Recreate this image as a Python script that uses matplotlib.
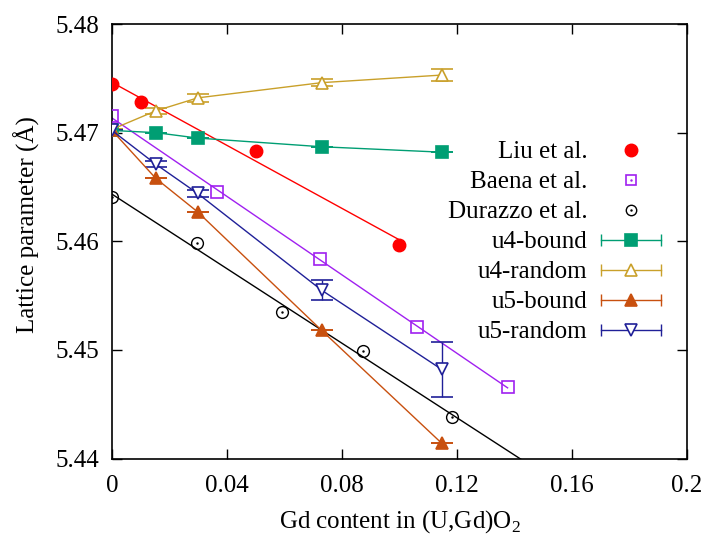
import numpy as np
import matplotlib
matplotlib.use('Agg')
import matplotlib.pyplot as plt
from matplotlib.lines import Line2D
from matplotlib.legend_handler import HandlerBase

plt.rcParams['font.family'] = ['Liberation Serif', 'DejaVu Serif']
plt.rcParams['mathtext.fontset'] = 'custom'
plt.rcParams['mathtext.rm'] = 'Liberation Serif'
plt.rcParams['font.size'] = 18

# experimental data
liu_x = [0.0, 0.01, 0.05, 0.10]
liu_y = [5.4745, 5.4728, 5.4683, 5.4597]
baena_x = [0.0, 0.0366, 0.0723, 0.1060, 0.1376]
baena_y = [5.4715, 5.4645, 5.4584, 5.4521, 5.4466]
durazzo_x = [0.0, 0.0297, 0.0593, 0.0874, 0.1184]
durazzo_y = [5.4641, 5.4598, 5.4535, 5.4499, 5.4438]

# simulations
sim_x = [0.0, 0.0152, 0.0298, 0.0729, 0.1147]
u4b_y = [5.4702, 5.4700, 5.4695, 5.4687, 5.4682]
u4b_err = [0.0, 0.0, 0.0, 0.0, 0.0]
u4r_y = [5.4703, 5.4720, 5.4732, 5.4746, 5.4753]
u4r_err = [0.0, 0.0003, 0.0004, 0.0003, 0.00055]
u5b_y = [5.4702, 5.4658, 5.4627, 5.4518, 5.4414]
u5b_err = [0.0, 0.0, 0.0, 0.0, 0.0]
u5r_y = [5.4702, 5.4671, 5.4644, 5.4555, 5.4482]
u5r_err = [0.0, 0.0003, 0.0003, 0.0009, 0.0025]

x_ticks = [0, 0.04, 0.08, 0.12, 0.16, 0.2]
x_labels = ['0', '0.04', '0.08', '0.12', '0.16', '0.2']
y_ticks = [5.44, 5.45, 5.46, 5.47, 5.48]
y_labels = ['5.44', '5.45', '5.46', '5.47', '5.48']

RED = '#ff0000'
PURPLE = '#a020f0'
TEAL = '#009e73'
GOLD = '#c9a02a'
ORANGE = '#c8500f'
BLUE = '#202098'
LW = 1.0
MS = 8.5


class ErrProxy(Line2D):
    pass


class HandlerErr(HandlerBase):
    # gnuplot style key: horizontal line with end caps and marker in the middle
    def create_artists(self, legend, orig, xdescent, ydescent, width, height,
                       fontsize, trans):
        y = height / 2 - ydescent
        x0, x1 = -xdescent, width - xdescent
        c = orig.get_color()
        line = Line2D([x0, x1], [y, y], color=c, lw=LW)
        caps = Line2D([x0, x1], [y, y], ls='none', marker='|', ms=9,
                      mew=LW, color=c)
        mk = Line2D([(x0 + x1) / 2], [y], ls='none',
                    marker=orig.get_marker(), ms=orig.get_markersize(),
                    mfc=orig.get_markerfacecolor(),
                    mec=orig.get_markeredgecolor(), mew=1.2)
        for a in (line, caps, mk):
            a.set_transform(trans)
        return [line, caps, mk]


fig = plt.figure(figsize=(7.07, 5.48), dpi=100)
ax = fig.add_axes([0.1584, 0.1633, 0.8133, 0.7929])

# fits to the experimental data
for xs, ys, c, xend in [(liu_x, liu_y, RED, liu_x[-1]),
                        (baena_x, baena_y, PURPLE, baena_x[-1]),
                        (durazzo_x, durazzo_y, 'black', 0.16)]:
    k, b = np.polyfit(xs, ys, 1)
    xx = np.array([0.0, xend])
    ax.plot(xx, k * xx + b, color=c, lw=LW, zorder=2)

ax.plot(liu_x, liu_y, 'o', color=RED, ms=MS + 0.5, zorder=4)
ax.plot(baena_x, baena_y, 's', mfc='none', mec=PURPLE, mew=1.2, ms=MS, zorder=4)
ax.plot(durazzo_x, durazzo_y, 'o', mfc='none', mec='black', mew=1.0, ms=MS, zorder=4)
ax.plot(durazzo_x, durazzo_y, '.', color='black', ms=1.5, zorder=4)

sims = [(u4b_y, u4b_err, TEAL, 's', TEAL, 'u4-bound'),
        (u4r_y, u4r_err, GOLD, '^', 'white', 'u4-random'),
        (u5b_y, u5b_err, ORANGE, '^', ORANGE, 'u5-bound'),
        (u5r_y, u5r_err, BLUE, 'v', 'white', 'u5-random')]
sim_handles = []
for ys, err, c, m, fc, lab in sims:
    ax.errorbar(sim_x, ys, yerr=err, color=c, lw=LW, marker=m, ms=MS,
                mfc=fc, mec=c, mew=1.2, capsize=8, capthick=LW, zorder=3)
    sim_handles.append(ErrProxy([], [], color=c, marker=m, ms=MS - 0.5,
                                mfc=fc, mec=c))

exp_handles = [
    Line2D([], [], ls='none', marker='o', color=RED, ms=MS + 0.5),
    (Line2D([], [], ls='none', marker='s', mfc='none', mec=PURPLE, mew=1.2, ms=MS - 1),
     Line2D([], [], ls='none', marker='.', color=PURPLE, ms=1.5)),
    (Line2D([], [], ls='none', marker='o', mfc='none', mec='black', mew=1.0, ms=MS - 1),
     Line2D([], [], ls='none', marker='.', color='black', ms=1.5)),
]
labels = ['Liu et al.', 'Baena et al.', 'Durazzo et al.',
          'u4-bound', 'u4-random', 'u5-bound', 'u5-random']
ax.legend(exp_handles + sim_handles, labels,
          handler_map={ErrProxy: HandlerErr()},
          loc='upper right', bbox_to_anchor=(661 / 707, 1 - 141 / 548),
          bbox_transform=fig.transFigure, frameon=False, markerfirst=False,
          handlelength=2.4, handletextpad=0.55, labelspacing=0.30,
          borderpad=0, borderaxespad=0, fontsize=18)

ax.set_xlim(0, 0.2)
ax.set_ylim(5.44, 5.48)
ax.set_xticks(x_ticks)
ax.set_xticklabels(x_labels)
ax.set_yticks(y_ticks)
ax.set_yticklabels(y_labels)
ax.tick_params(direction='in', length=7, width=1.0, top=True, right=True,
               labelsize=18)
ax.tick_params(axis='x', pad=12)
ax.tick_params(axis='y', pad=9)
for s in ax.spines.values():
    s.set_linewidth(1.2)

fig.text(27 / 707, 1 - 225 / 548, 'Lattice parameter (\u00c5)',
         rotation=90, ha='center', va='center', fontsize=18)
fig.text(400 / 707, 1 - 522 / 548, 'Gd content in (U,Gd)O$_2$',
         ha='center', va='center', fontsize=18)

fig.savefig('out.png', dpi=100)
